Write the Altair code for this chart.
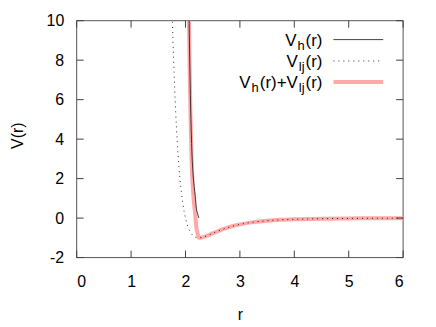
import altair as alt
import pandas as pd

# ---- data ----
lj_r = [1.75, 1.76, 1.78, 1.80, 1.82, 1.85, 1.88, 1.90, 1.95, 2.00, 2.05, 2.10, 2.15, 2.20,
        2.25, 2.30, 2.40, 2.50, 2.60, 2.80, 3.00, 3.25, 3.50, 3.75, 4.00, 4.50, 5.00, 5.50, 6.00]
lj_v = [10.95, 9.92, 8.15, 6.64, 5.36, 3.81, 2.61, 1.96, 0.76, 0.0, -0.475, -0.758, -0.912, -0.983,
        -1.0, -0.982, -0.891, -0.774, -0.657, -0.461, -0.320, -0.205, -0.134, -0.090, -0.062,
        -0.031, -0.016, -0.009, -0.005]

vh_r = [2.05, 2.06, 2.07, 2.08, 2.09, 2.10, 2.11, 2.12, 2.14, 2.16, 2.18, 2.20, 2.22, 2.245]
vh_v = [13.5, 11.3, 9.4, 7.7, 6.2, 5.0, 4.0, 3.2, 2.2, 1.6, 1.1, 0.5, 0.25, 0.0]

sum_r = [2.05, 2.06, 2.07, 2.08, 2.09, 2.10, 2.11, 2.12, 2.14, 2.16, 2.18, 2.20, 2.22, 2.245,
         2.30, 2.40, 2.50, 2.60, 2.80, 3.00, 3.25, 3.50, 3.75, 4.00, 4.50, 5.00, 5.50, 6.00]
sum_v = [13.03, 10.76, 8.80, 7.05, 5.50, 4.24, 3.20, 2.36, 1.31, 0.67, 0.14, -0.48, -0.75, -1.0,
         -0.982, -0.891, -0.774, -0.657, -0.461, -0.320, -0.205, -0.134, -0.090, -0.062,
         -0.031, -0.016, -0.009, -0.005]

x_ticks = [0, 1, 2, 3, 4, 5, 6]
y_ticks = [-2, 0, 2, 4, 6, 8, 10]
# legend entries: (text, is_subscript) pieces
legend_rows = [
    [("V", False), ("h", True), ("(r)", False)],
    [("V", False), ("lj", True), ("(r)", False)],
    [("V", False), ("h", True), ("(r)+V", False), ("lj", True), ("(r)", False)],
]

# ---- layout / style ----
W, H = 328, 238
FONT = "Liberation Sans"
FS = 16
LFS, SFS = 17, 13
PINK = "#ffa8a8"
BORDER = "#555555"
TICK = "#404040"
ROW_Y = [19, 40.5, 61.5]
TEXT_RIGHT = 248
CHAR_W = {"V": 0.667, "h": 0.556, "(": 0.333, "r": 0.333, ")": 0.333, "+": 0.584,
          "l": 0.222, "j": 0.222}

xs = alt.Scale(domain=[0, 6], nice=False, zero=False)
ys = alt.Scale(domain=[-2, 10], nice=False, zero=False)

df_lj = pd.DataFrame({"r": lj_r, "v": lj_v})
df_vh = pd.DataFrame({"r": vh_r, "v": vh_v})
df_sum = pd.DataFrame({"r": sum_r, "v": sum_v})

xaxis = alt.Axis(values=x_ticks, title="r", grid=False, domain=False, ticks=False,
                 labelPadding=16, labelFontSize=FS, labelColor="black", labelFont=FONT,
                 labelExpr="datum.value + ''",
                 titleFont=FONT, titleFontSize=16, titleFontWeight="normal", titleColor="black",
                 titleX=W / 2, titleY=57, titleBaseline="middle")
yaxis = alt.Axis(values=y_ticks, title="V(r)", grid=False, domain=False, ticks=False,
                 labelPadding=13, labelFontSize=FS, labelColor="black", labelFont=FONT,
                 labelExpr="datum.value + ''",
                 titleFont=FONT, titleFontSize=16, titleFontWeight="normal", titleColor="black",
                 titleX=-59, titleY=115, titleBaseline="middle", titleAlign="center")

X = alt.X("r:Q", scale=xs, axis=xaxis)
Y = alt.Y("v:Q", scale=ys, axis=yaxis)

sum_line = alt.Chart(df_sum).mark_line(color=PINK, strokeWidth=4, clip=True,
                                       interpolate="monotone").encode(x=X, y=Y)
vh_line = alt.Chart(df_vh).mark_line(color="black", strokeWidth=1, strokeOpacity=0.75, clip=True,
                                     interpolate="monotone").encode(x=X, y=Y)
lj_line = alt.Chart(df_lj).mark_line(color="black", strokeWidth=1, strokeDash=[1, 4],
                                     strokeOpacity=0.85, clip=True,
                                     interpolate="monotone").encode(x=X, y=Y)

xt = pd.DataFrame({"r": x_ticks})
yt = pd.DataFrame({"v": y_ticks})
one = pd.DataFrame({"k": [0]})

# plot border box spanning the full domains
box_df = pd.DataFrame({"r": [0], "r2": [6], "v": [-2], "v2": [10]})
box = alt.Chart(box_df).mark_rect(fillOpacity=0, fill="white", stroke=BORDER,
                                  strokeWidth=1).encode(
    x=X, x2="r2:Q", y=Y, y2="v2:Q")

tick_b = alt.Chart(xt).mark_rule(color=TICK, strokeWidth=1).encode(
    x=X, y=alt.value(H), y2=alt.value(H - 7))
tick_t = alt.Chart(xt).mark_rule(color=TICK, strokeWidth=1).encode(
    x=X, y=alt.value(0), y2=alt.value(7))
tick_l = alt.Chart(yt).mark_rule(color=TICK, strokeWidth=1).encode(
    y=Y, x=alt.value(0), x2=alt.value(7))
tick_r = alt.Chart(yt).mark_rule(color=TICK, strokeWidth=1).encode(
    y=Y, x=alt.value(W), x2=alt.value(W - 7))

# build legend text pieces, laid out right-to-left
pieces = []
for row, cy in zip(legend_rows, ROW_Y):
    x = TEXT_RIGHT
    for txt, sub in reversed(row):
        fs = SFS if sub else LFS
        w = sum(CHAR_W[c] for c in txt) * fs + 1.0
        x -= w
        pieces.append({"t": txt, "px": x, "py": cy + (10 if sub else 6.5), "fs": fs})
leg_df = pd.DataFrame(pieces)
leg_text = alt.Chart(leg_df).mark_text(align="left", baseline="alphabetic", font=FONT,
                                       color="black").encode(
    x=alt.X("px:Q", scale=None, axis=None), y=alt.Y("py:Q", scale=None, axis=None),
    size=alt.Size("fs:Q", scale=None, legend=None), text="t:N")
leg1 = alt.Chart(one).mark_rule(color="black", strokeWidth=1, strokeOpacity=0.75).encode(
    x=alt.value(258), x2=alt.value(308), y=alt.value(ROW_Y[0]))
leg2 = alt.Chart(one).mark_rule(color="black", strokeWidth=1, strokeDash=[1, 4],
                                strokeOpacity=0.85).encode(
    x=alt.value(258), x2=alt.value(308), y=alt.value(ROW_Y[1]))
leg3 = alt.Chart(one).mark_rule(color=PINK, strokeWidth=4).encode(
    x=alt.value(258), x2=alt.value(308), y=alt.value(ROW_Y[2]))

chart = alt.layer(
    box, sum_line, vh_line, lj_line,
    tick_b, tick_t, tick_l, tick_r, leg_text, leg1, leg2, leg3
).properties(
    width=W, height=H,
    padding={"left": 69, "top": 12, "right": 25, "bottom": 66},
    autosize=alt.AutoSizeParams(type="none"),
).configure(
    font=FONT, background="white", view=alt.ViewConfig(stroke=None)
)

chart.save("out.html", embed_options={"renderer": "svg", "actions": False})
